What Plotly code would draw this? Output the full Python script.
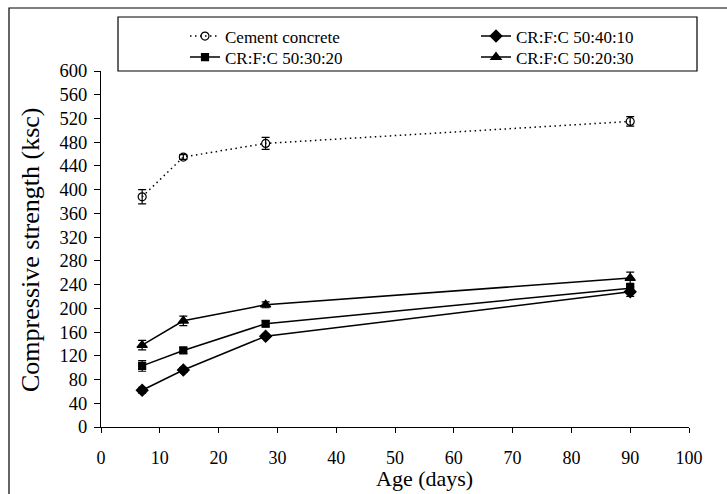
import plotly.graph_objects as go

age = [7, 14, 28, 90]
names = ["Cement concrete", "CR:F:C 50:40:10", "CR:F:C 50:30:20", "CR:F:C 50:20:30"]
cement = [388, 455, 478, 515]
cement_err = [12, 4, 10, 8]
mix_40_10 = [62, 96, 153, 228]
mix_40_10_err = [5, 4, 3, 8]
mix_30_20 = [103, 129, 174, 234]
mix_30_20_err = [9, 5, 5, 8]
mix_20_30 = [138, 179, 206, 251]
mix_20_30_err = [8, 8, 5, 10]
x_ticks = list(range(0, 101, 10))
y_ticks = list(range(0, 601, 40))

FONT = "Liberation Serif, Times New Roman, serif"
W, H = 727, 494
L, R, T, B = 101, 38, 71, 67
pw, ph = W - L - R, H - T - B

def px2x(px):
    return (px - L) / pw

def px2y(py):
    return (H - B - py) / ph

fig = go.Figure()

series = [
    (cement, cement_err, "circle-open", 8, dict(color="black", width=1.5, dash="1.5px,3.5px"), "legend"),
    (mix_40_10, mix_40_10_err, "diamond", 9, dict(color="black", width=1.5), "legend2"),
    (mix_30_20, mix_30_20_err, "square", 7, dict(color="black", width=1.5), "legend3"),
    (mix_20_30, mix_20_30_err, "triangle-up", 9, dict(color="black", width=1.5), "legend4"),
]
for name, (vals, err, sym, size, line, leg) in zip(names, series):
    fig.add_trace(go.Scatter(
        x=age, y=vals, name=name, mode="lines+markers",
        line=line, legend=leg,
        marker=dict(symbol=sym, size=size, color="black",
                    line=dict(color="black", width=1.2)),
        error_y=dict(type="data", array=err, visible=True,
                     color="black", thickness=1.2, width=4),
    ))

# outer frame
fig.add_shape(type="rect", xref="paper", yref="paper",
              x0=px2x(9), x1=px2x(740), y0=px2y(505), y1=px2y(8),
              line=dict(color="black", width=1.2), layer="below")
# legend box
fig.add_shape(type="rect", xref="paper", yref="paper",
              x0=px2x(118), x1=px2x(697), y0=px2y(71), y1=px2y(17),
              line=dict(color="black", width=1.2), layer="below")

fig.add_annotation(text="Age (days)", xref="paper", yref="paper",
                   x=px2x(424), y=px2y(479), showarrow=False,
                   xanchor="center", yanchor="middle",
                   font=dict(family=FONT, size=22, color="black"))
fig.add_annotation(text="Compressive strength (ksc)", xref="paper", yref="paper",
                   x=px2x(30), y=px2y(250), showarrow=False, textangle=-90,
                   xanchor="center", yanchor="middle",
                   font=dict(family=FONT, size=26, color="black"))

leg_common = dict(orientation="v", xref="paper", yref="paper",
                  xanchor="left", yanchor="top",
                  bgcolor="rgba(0,0,0,0)", borderwidth=0,
                  font=dict(family=FONT, size=17, color="black"))

fig.update_layout(
    width=W, height=H,
    margin=dict(l=L, r=R, t=T, b=B, autoexpand=False),
    paper_bgcolor="white", plot_bgcolor="white",
    font=dict(family=FONT, color="black", size=17),
    showlegend=True,
    legend=dict(x=px2x(185), y=px2y(18.5), **leg_common),
    legend2=dict(x=px2x(476), y=px2y(18.5), **leg_common),
    legend3=dict(x=px2x(185), y=px2y(39.5), **leg_common),
    legend4=dict(x=px2x(476), y=px2y(39.5), **leg_common),
    xaxis=dict(range=[0, 100], tickvals=x_ticks, ticks="outside", ticklen=5,
               tickcolor="black", showline=True, linecolor="black", linewidth=1,
               showgrid=False, zeroline=False, ticklabelstandoff=9,
               tickfont=dict(family=FONT, size=18, color="black")),
    yaxis=dict(range=[0, 600], tickvals=y_ticks, ticks="outside", ticklen=6,
               tickcolor="black", showline=True, linecolor="black", linewidth=1,
               showgrid=False, zeroline=False, ticklabelstandoff=3,
               tickfont=dict(family=FONT, size=18.5, color="black")),
)

fig.write_html("out.html")
